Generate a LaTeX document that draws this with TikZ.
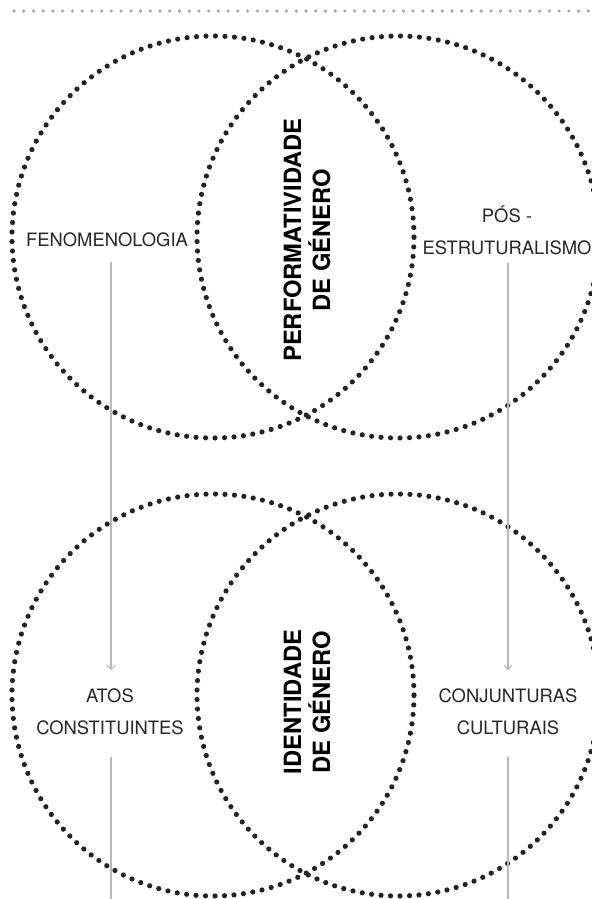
\documentclass[tikz,border=0pt]{standalone}
\usepackage{fontspec}
\setmainfont{TeX Gyre Heros}
\usetikzlibrary{arrows.meta}
\definecolor{dotc}{HTML}{222222}
\definecolor{topdot}{HTML}{A8A8A8}
\definecolor{linec}{HTML}{B8B8B8}
\definecolor{txt}{HTML}{262626}
\begin{document}
\begin{tikzpicture}[x=0.75pt,y=-0.75pt,
  dotcircle/.style={draw=dotc, line width=3.9pt, line cap=round, dash pattern=on 0pt off 7.12pt},
  topline/.style={draw=topdot, line width=2.7pt, line cap=round, dash pattern=on 0pt off 7.3pt},
  lbl/.style={font=\fontsize{13.8}{24}\selectfont, text=txt, align=center, inner sep=0pt},
  boldlbl/.style={font=\fontsize{17.8}{21.75}\selectfont\bfseries, text=black, align=center, rotate=90, inner sep=0pt},
  arr/.style={draw=linec, line width=0.8pt, -{Straight Barb[length=3pt,width=6pt]}},
  ln/.style={draw=linec, line width=0.8pt}]
\useasboundingbox (0,0) rectangle (592,899);
\clip (0,0) rectangle (592,899);
% top dotted rule
\coordinate (tl) at (14,11);
\coordinate (tr) at (600,11);
\draw[topline] (tl) -- (tr);
% circles
\draw[dotcircle] (213,237) circle[radius=150.75pt];
\draw[dotcircle] (398,237) circle[radius=150.75pt];
\draw[dotcircle] (213,695) circle[radius=150.75pt];
\draw[dotcircle] (398,695) circle[radius=150.75pt];
% labels
\node[lbl] (feno) at (107,240) {FENOMENOLOGIA};
\node[lbl] (pos) at (507,230) {PÓS -\\ESTRUTURALISMO};
\node[lbl] (atos) at (110,712) {ATOS\\CONSTITUINTES};
\node[lbl] (conj) at (508,712) {CONJUNTURAS\\CULTURAIS};
\node[boldlbl] (perf) at (307,240) {PERFORMATIVIDADE\\DE GÉNERO};
\node[boldlbl] (iden) at (307,702) {IDENTIDADE\\DE GÉNERO};
% connectors
\coordinate (lx) at (111,0);
\coordinate (rx) at (508,0);
\coordinate (lbot) at (111,899);
\coordinate (rbot) at (508,899);
\draw[arr, shorten <=11pt, shorten >=14pt] (feno.south -| lx) -- (atos.north -| lx);
\draw[arr, shorten <=6pt, shorten >=14pt] (pos.south -| rx) -- (conj.north -| rx);
\draw[ln, shorten <=16pt] (atos.south -| lx) -- (lbot);
\draw[ln, shorten <=16pt] (conj.south -| rx) -- (rbot);
\end{tikzpicture}
\end{document}
